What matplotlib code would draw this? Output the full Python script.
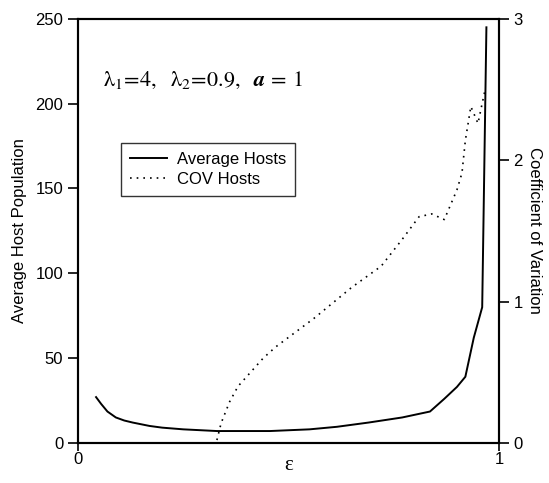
import matplotlib
matplotlib.use("Agg")
import matplotlib.pyplot as plt

plt.rcParams['font.family'] = ['Liberation Sans', 'DejaVu Sans']
plt.rcParams['mathtext.fontset'] = 'stix'

# average hosts (left axis)
eps_avg = [0.043, 0.055, 0.07, 0.09, 0.11, 0.13, 0.17, 0.20, 0.25, 0.33,
           0.456, 0.55, 0.615, 0.69, 0.77, 0.836, 0.87, 0.90, 0.92, 0.94,
           0.96, 0.97]
avg_hosts = [27, 23, 18.5, 15, 13.2, 12, 10, 9, 8, 7,
             7, 8, 9.5, 12, 15, 18.5, 26, 33, 39, 62,
             80, 245]

# coefficient of variation (right axis)
eps_cov = [0.33, 0.34, 0.36, 0.38, 0.41, 0.44, 0.47, 0.56, 0.65, 0.72, 0.77,
           0.81, 0.84, 0.855, 0.87, 0.89, 0.90, 0.912, 0.92, 0.926, 0.933,
           0.943, 0.95, 0.957, 0.967]
cov_hosts = [0.02, 0.14, 0.29, 0.40, 0.50, 0.60, 0.68, 0.88, 1.10, 1.25, 1.44,
             1.60, 1.62, 1.60, 1.58, 1.72, 1.79, 1.91, 2.14, 2.25, 2.38,
             2.31, 2.26, 2.36, 2.50]

fig = plt.figure(figsize=(5.49, 4.83), dpi=100)
ax1 = fig.add_axes([0.142, 0.083, 0.767, 0.878])
ax2 = ax1.twinx()

ax1.plot(eps_avg, avg_hosts, color='black', linewidth=1.4, label='Average Hosts')
ax2.plot(eps_cov, cov_hosts, color='black', linewidth=1.2,
         linestyle=(0, (1, 3)), label='COV Hosts')

ax1.set_xlim(0, 1)
ax1.set_ylim(0, 250)
ax2.set_ylim(0, 3)
ax1.set_xticks([0, 1])
ax1.set_yticks([0, 50, 100, 150, 200, 250])
ax2.set_yticks([0, 1, 2, 3])

for ax in (ax1, ax2):
    for s in ax.spines.values():
        s.set_linewidth(1.5)
    ax.tick_params(direction='out', length=7, width=1.2, labelsize=12)
ax1.tick_params(axis='x', length=6, pad=0.5)

ax1.set_ylabel('Average Host Population', fontsize=12, labelpad=6)
ax2.set_ylabel('Coefficient of Variation', fontsize=12, rotation=-90, labelpad=14)
ax1.set_xlabel('ε', fontsize=15, family=['Liberation Serif', 'DejaVu Serif'])
ax1.xaxis.set_label_coords(0.5, -0.03)

ax1.text(0.06, 0.855,
         r'$\mathrm{\lambda}_1\!=\!4,\ \ \mathrm{\lambda}_2\!=\!0.9,\ \ \mathbfit{a}\,=\,1$',
         transform=ax1.transAxes, fontsize=16, va='center')

h1, l1 = ax1.get_legend_handles_labels()
h2, l2 = ax2.get_legend_handles_labels()
leg = ax1.legend(h1 + h2, l1 + l2, loc='upper left', bbox_to_anchor=(0.102, 0.708),
                 borderaxespad=0, frameon=True, fancybox=False, edgecolor='black',
                 fontsize=12, handlelength=2.2, handletextpad=0.6,
                 borderpad=0.55, labelspacing=0.3)
leg.get_frame().set_linewidth(1.0)

fig.savefig('out.png', dpi=100)
